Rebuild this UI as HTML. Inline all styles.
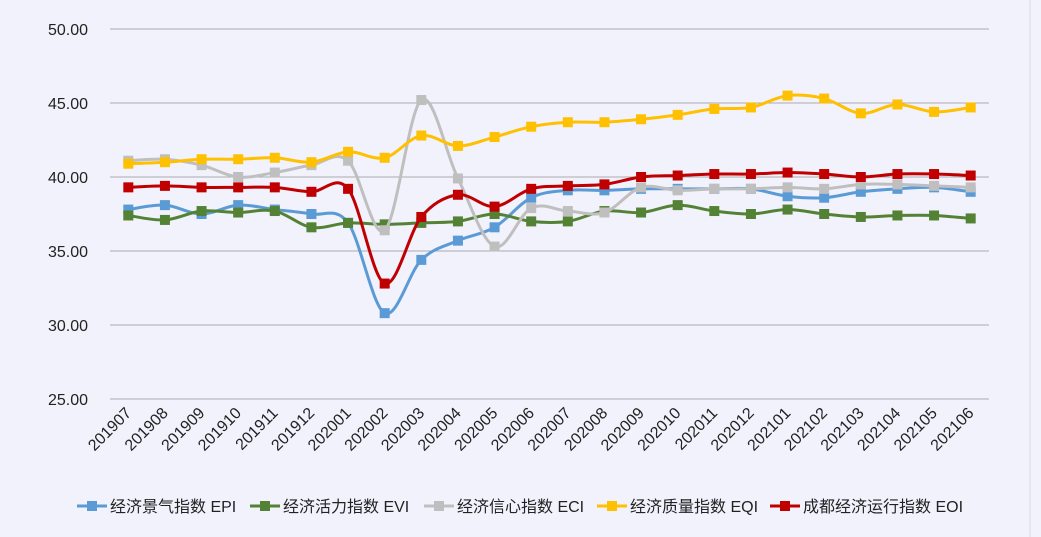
<!DOCTYPE html>
<html><head><meta charset="utf-8"><style>
body{margin:0;background:#f2f2fd;}
svg{display:block;font-family:"Liberation Sans","Noto Sans CJK SC",sans-serif;}
</style></head><body>
<svg id="chart" width="1041" height="537">
<rect width="1041" height="537" fill="#f2f2fd"/>
<line x1="1030" y1="0" x2="1030" y2="537" stroke="#d8d8e4" stroke-width="1"/>
<g id="grid"></g><g id="ylab"></g><g id="xlab"></g><g id="series"></g><g id="legend"></g>
</svg>
<script>
const categories=["201907","201908","201909","201910","201911","201912","202001","202002","202003","202004","202005","202006","202007","202008","202009","202010","202011","202012","202101","202102","202103","202104","202105","202106"];
const yTicks=[25,30,35,40,45,50];
const seriesNames=["经济景气指数 EPI","经济活力指数 EVI","经济信心指数 ECI","经济质量指数 EQI","成都经济运行指数 EOI"];
const epi=[37.8,38.1,37.5,38.1,37.8,37.5,36.9,30.8,34.4,35.7,36.6,38.6,39.1,39.1,39.2,39.2,39.2,39.2,38.7,38.6,39.0,39.2,39.3,39.0];
const evi=[37.4,37.1,37.7,37.6,37.7,36.6,36.9,36.8,36.9,37.0,37.5,37.0,37.0,37.7,37.6,38.1,37.7,37.5,37.8,37.5,37.3,37.4,37.4,37.2];
const eci=[41.1,41.2,40.8,40.0,40.3,40.8,41.1,36.4,45.2,39.9,35.3,37.9,37.7,37.6,39.3,39.1,39.2,39.2,39.3,39.2,39.5,39.5,39.4,39.3];
const eqi=[40.9,41.0,41.2,41.2,41.3,41.0,41.7,41.3,42.8,42.1,42.7,43.4,43.7,43.7,43.9,44.2,44.6,44.7,45.5,45.3,44.3,44.9,44.4,44.7];
const eoi=[39.3,39.4,39.3,39.3,39.3,39.0,39.2,32.8,37.3,38.8,38.0,39.2,39.4,39.5,40.0,40.1,40.2,40.2,40.3,40.2,40.0,40.2,40.2,40.1];
const colors=["#5b9bd5","#548235","#bfbfbf","#ffc000","#c00000"];
const allSeries=[epi,evi,eci,eqi,eoi];
const NS="http://www.w3.org/2000/svg";
const L=110,R=989,T=29,B=399,ymin=25,ymax=50;
const step=(R-L)/categories.length;
const xs=i=>L+step*(i+0.5);
const ys=v=>B-(v-ymin)/(ymax-ymin)*(B-T);
function mk(t,a,p){const e=document.createElementNS(NS,t);for(const k in a)e.setAttribute(k,a[k]);p.appendChild(e);return e;}
const grid=document.getElementById('grid'),ylab=document.getElementById('ylab'),xlab=document.getElementById('xlab'),ser=document.getElementById('series'),leg=document.getElementById('legend');
yTicks.forEach(v=>{
 const l=mk('line',{x1:L,x2:R,y1:ys(v),y2:ys(v),stroke:'#ababab','stroke-width':1},grid);
 
 
 const t=mk('text',{x:88,y:ys(v)+6,'text-anchor':'end','font-size':16,fill:'#222'},ylab);
 t.textContent=v.toFixed(2);
 
 
});
categories.forEach((c,i)=>{
 const x=xs(i)+4,y=414;
 const t=mk('text',{x:x,y:y,'text-anchor':'end','font-size':16,fill:'#222',transform:`rotate(-45 ${x} ${y})`},xlab);
 t.textContent=c;
 
 
});
function smooth(pts){
 let d=`M${pts[0][0]},${pts[0][1]}`;
 for(let i=0;i<pts.length-1;i++){
  const p0=pts[i-1]||pts[i],p1=pts[i],p2=pts[i+1],p3=pts[i+2]||p2,k=1/6;
  d+=` C${p1[0]+(p2[0]-p0[0])*k},${p1[1]+(p2[1]-p0[1])*k} ${p2[0]-(p3[0]-p1[0])*k},${p2[1]-(p3[1]-p1[1])*k} ${p2[0]},${p2[1]}`;
 }
 return d;
}
allSeries.forEach((s,si)=>{
 const g=mk('g',{},ser);
 
 
 const pts=s.map((v,i)=>[xs(i),ys(v)]);
 const p=mk('path',{d:smooth(pts),fill:'none',stroke:colors[si],'stroke-width':3},g);
 
 
 pts.forEach(q=>{
  const r=mk('rect',{x:q[0]-5,y:q[1]-5,width:10,height:10,fill:colors[si]},g);
  
  
 });
});
const legX=[77,250,424,597,770];
seriesNames.forEach((n,i)=>{
 const g=mk('g',{},leg);
 
 
 const x=legX[i],y=506;
 mk('line',{x1:x,x2:x+30,y1:y,y2:y,stroke:colors[i],'stroke-width':3},g);
 mk('rect',{x:x+10,y:y-5,width:10,height:10,fill:colors[i]},g);
 const t=mk('text',{x:x+33,y:y+6,'font-size':16,fill:'#222'},g);
 t.textContent=n;
});
</script>
</body></html>
